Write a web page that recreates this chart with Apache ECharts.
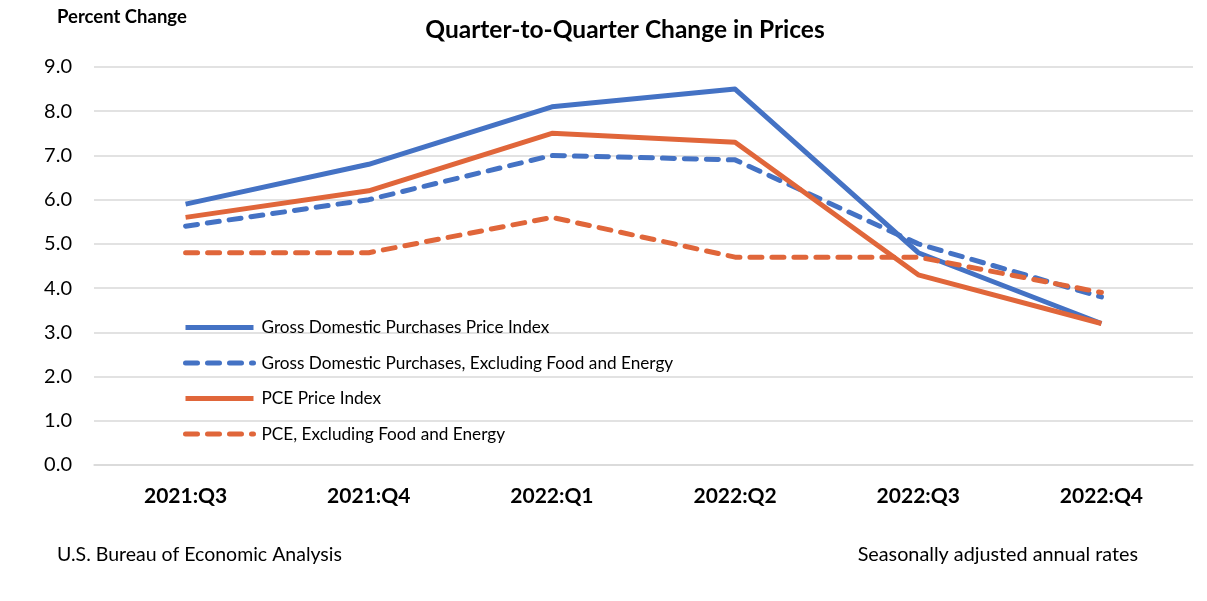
<!DOCTYPE html>
<html><head><meta charset="utf-8">
<script src="https://cdn.jsdelivr.net/npm/echarts@6/dist/echarts.min.js"></script>
<style>html,body{margin:0;padding:0;background:#fff}#c{width:1207px;height:601px}</style>
</head><body><div id="c"></div>
<script>
const categories = ['2021:Q3','2021:Q4','2022:Q1','2022:Q2','2022:Q3','2022:Q4'];
const gdpPrice = [5.9, 6.8, 8.1, 8.5, 4.8, 3.2];
const gdpCore = [5.4, 6.0, 7.0, 6.9, 5.0, 3.8];
const pcePrice = [5.6, 6.2, 7.5, 7.3, 4.3, 3.2];
const pceCore = [4.8, 4.8, 5.6, 4.7, 4.7, 3.9];
const seriesNames = ['Gross Domestic Purchases Price Index','Gross Domestic Purchases, Excluding Food and Energy','PCE Price Index','PCE, Excluding Food and Energy'];
const BLUE = '#4472C4', ORANGE = '#E0663A';
const FONT = 'Lato';
function mk(name, data, color, dashed){
  return {name, type:'line', data, showSymbol:false, symbol:'none', silent:true,
    lineStyle:{color, width:5, type: dashed ? [12,10] : 'solid', cap: dashed ? 'round':'butt', join:'round'},
    itemStyle:{color}};
}
const chart = echarts.init(document.getElementById('c'), null, {renderer:'canvas'});
chart.setOption({
  animation:false,
  textStyle:{fontFamily:FONT},
  title:[
    {text:'Quarter-to-Quarter Change in Prices', left:620, top:13, textAlign:'center',
     textStyle:{fontFamily:FONT, fontSize:24.5, fontWeight:'bold', color:'#000'}},
    {text:'Percent Change', left:52, top:3, textStyle:{fontFamily:FONT, fontSize:18.5, fontWeight:'bold', color:'#000'}},
    {text:'U.S. Bureau of Economic Analysis', left:52, top:540, textStyle:{fontFamily:FONT, fontSize:19.5, fontWeight:'normal', color:'#000'}},
    {text:'Seasonally adjusted annual rates', right:64, top:540, textStyle:{fontFamily:FONT, fontSize:19.8, fontWeight:'normal', color:'#000'}}
  ],
  legend:{orient:'vertical', left:178, top:314, itemGap:18.5, itemWidth:68, itemHeight:20,
    itemStyle:{color:'rgba(0,0,0,0)', borderWidth:0},
    lineStyle:{width:5},
    textStyle:{fontFamily:FONT, fontSize:17.2, color:'#000', padding:[0,0,0,3]},
    data:seriesNames},
  grid:{left:94, right:14, top:67, bottom:136, containLabel:false},
  xAxis:{type:'category', data:categories, boundaryGap:true,
    axisLine:{show:true, lineStyle:{color:'#d9d9d9', width:1.5}},
    axisTick:{show:false},
    axisLabel:{fontFamily:FONT, fontSize:21, fontWeight:'bold', color:'#000', margin:21}},
  yAxis:{type:'value', min:0, max:9, interval:1,
    axisLine:{show:false}, axisTick:{show:false},
    splitLine:{lineStyle:{color:'#d9d9d9', width:1.5}},
    axisLabel:{fontFamily:FONT, fontSize:20, color:'#000', margin:22, formatter:v=>v.toFixed(1)}},
  series:[
    mk(seriesNames[0], gdpPrice, BLUE, false),
    mk(seriesNames[1], gdpCore, BLUE, true),
    mk(seriesNames[2], pcePrice, ORANGE, false),
    mk(seriesNames[3], pceCore, ORANGE, true)
  ]
});
</script></body></html>
